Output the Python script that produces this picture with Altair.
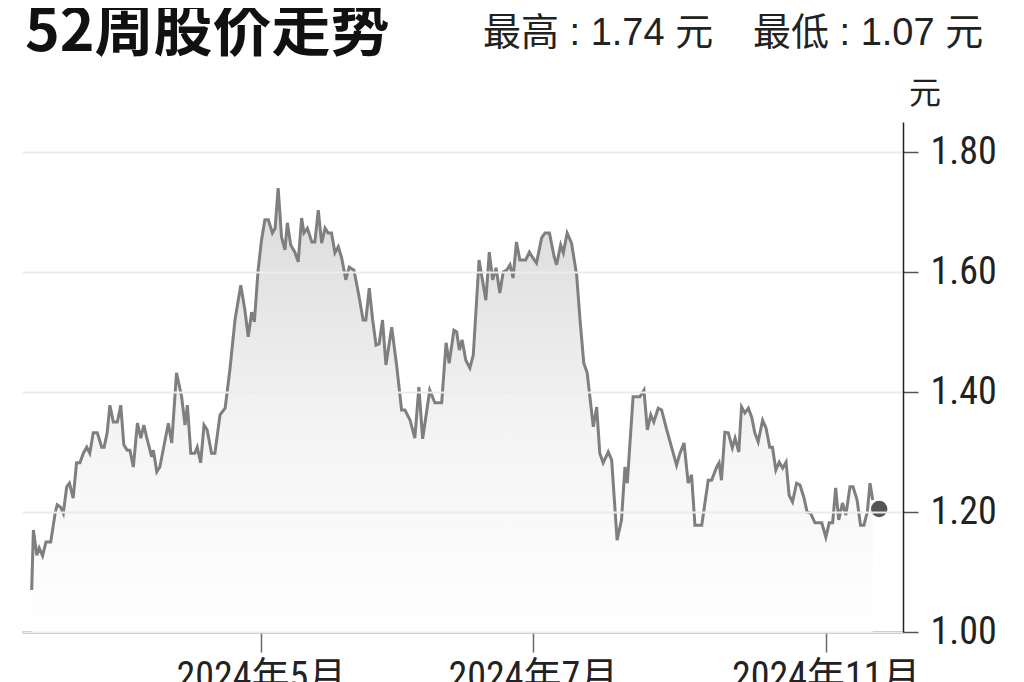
import altair as alt
import pandas as pd

# ---- data ----
days = [0.5, 1.0, 2.0, 2.7, 3.7, 4.7, 6.1, 7.4, 8.0, 9.0, 9.8, 10.8, 11.6, 12.7, 13.7, 14.7, 15.7, 16.7,
        17.6, 18.6, 19.8, 21.1, 21.8, 22.7, 23.5, 24.5, 25.7, 26.7, 27.6, 28.6, 29.4, 30.4, 31.6, 32.6,
        33.5, 34.3, 35.8, 36.3, 37.3, 38.2, 40.7, 41.7, 43.1, 44.6, 45.6, 46.3, 47.3, 48.5, 49.2, 50.2,
        51.2, 52.1, 53.4, 54.4,
        55.9, 57.4, 58.8, 60.3, 62.0, 63.2, 64.2, 65.2, 66.0, 67.1, 68.1, 69.1, 70.1, 71.3, 72.1, 73.0,
        74.0, 75.0, 75.7, 76.7, 77.9, 78.9, 79.9, 80.6, 81.6, 82.9, 83.8, 84.8, 85.8, 86.8, 87.7, 88.7,
        89.7, 90.7, 91.7, 92.9, 93.9, 95.3, 96.6, 98.0, 98.8, 99.8, 100.8, 101.8, 102.7,
        103.7, 104.7, 106.4, 107.9, 109.3, 110.3, 111.8, 113.2, 114.4, 115.5, 117.6, 119.1, 121.1, 122.4,
        123.3, 124.7, 125.5, 126.3, 127.1, 128.2, 129.4, 130.4, 132.1, 134.1, 135.1, 136.1, 137.1, 138.2,
        139.2, 140.2, 141.2, 142.1, 143.1, 144.1, 145.8, 146.9, 148.0, 149.0, 150.5,
        151.5, 152.8, 154.2, 154.9, 156.1, 156.9, 158.0, 159.3, 160.8, 161.8, 162.9, 163.9, 165.7, 166.7,
        167.6, 168.6, 170.1, 171.1, 172.7, 174.0, 175.0, 175.7, 177.4, 179.4, 180.6, 181.6, 182.6, 183.5,
        184.8, 185.8, 187.3, 190.2, 191.2,
        192.4, 193.6, 194.6, 195.6, 197.6, 199.5, 200.5, 202.0, 202.7, 203.4, 204.4, 205.4, 206.6, 207.4,
        208.5, 209.3, 210.3, 211.3, 212.3, 213.2, 214.2, 215.5, 216.5, 217.6, 218.4, 219.4, 220.4, 221.4,
        222.4, 223.3, 224.3, 225.5, 226.5, 227.6, 228.6, 229.6, 230.9, 232.9, 234.1, 235.1, 236.1, 237.0,
        237.9, 239.0, 240.0, 241.2, 242.1, 243.3, 244.3, 245.3, 246.3, 247.1, 247.9]

prices = [1.07, 1.17, 1.128, 1.14, 1.127, 1.15, 1.15, 1.198, 1.212, 1.208, 1.198, 1.242, 1.248, 1.223,
          1.282, 1.282, 1.298, 1.308, 1.298, 1.332, 1.332, 1.308, 1.308, 1.332, 1.378, 1.35, 1.35, 1.378,
          1.312, 1.303, 1.303, 1.275, 1.348, 1.323, 1.345, 1.325, 1.292, 1.303, 1.267, 1.275, 1.348, 1.315,
          1.432, 1.392, 1.345, 1.378, 1.298, 1.298, 1.308, 1.282, 1.345, 1.337, 1.298, 1.298,
          1.362, 1.373, 1.437, 1.52, 1.578, 1.537, 1.492, 1.533, 1.517, 1.603, 1.653, 1.687, 1.687, 1.665,
          1.673, 1.74, 1.658, 1.637, 1.682, 1.645, 1.633, 1.617, 1.69, 1.665, 1.673, 1.65, 1.65, 1.703,
          1.648, 1.673, 1.665, 1.665, 1.632, 1.642, 1.623, 1.587, 1.608, 1.603, 1.565, 1.52, 1.52, 1.573,
          1.52, 1.478, 1.48,
          1.52, 1.445, 1.508, 1.442, 1.37, 1.37, 1.353, 1.323, 1.408, 1.322, 1.403, 1.382, 1.382, 1.482,
          1.448, 1.503, 1.5, 1.47, 1.487, 1.453, 1.44, 1.462, 1.62, 1.553, 1.633, 1.587, 1.607, 1.565,
          1.6, 1.603, 1.612, 1.59, 1.65, 1.62, 1.62, 1.633, 1.623, 1.615, 1.657,
          1.665, 1.665, 1.625, 1.612, 1.645, 1.632, 1.665, 1.648, 1.595, 1.52, 1.448, 1.432, 1.342, 1.375,
          1.298, 1.282, 1.3, 1.287, 1.153, 1.187, 1.275, 1.248, 1.392, 1.392, 1.403, 1.337, 1.362, 1.35,
          1.373, 1.37, 1.337, 1.278, 1.298,
          1.315, 1.248, 1.262, 1.178, 1.178, 1.253, 1.253, 1.275, 1.282, 1.253, 1.333, 1.332, 1.307, 1.323,
          1.3, 1.375, 1.365, 1.373, 1.358, 1.332, 1.317, 1.353, 1.34, 1.308, 1.308, 1.27, 1.283, 1.273,
          1.283, 1.228, 1.217, 1.248, 1.245, 1.225, 1.2, 1.198, 1.182, 1.182, 1.158, 1.182, 1.182, 1.24,
          1.187, 1.215, 1.195, 1.242, 1.242, 1.22, 1.178, 1.178, 1.2, 1.248, 1.22]

last_day = [249.8]
last_price = [1.205]

y_ticks = [1.0, 1.2, 1.4, 1.6, 1.8]
x_tick_days = [67.9, 147.9, 234.1]
x_tick_labels = ["2024年5月", "2024年7月", "2024年11月"]

title_text = "52周股价走势"
high_text = "最高 : 1.74 元"
low_text = "最低 : 1.07 元"
unit_text = "元"

# ---- build chart ----
df = pd.DataFrame({"day": days, "price": prices})
df_last = pd.DataFrame({"day": last_day, "price": last_price})

label_expr = " : ".join(
    [f"datum.value < {(x_tick_days[i] + x_tick_days[i + 1]) / 2} ? '{x_tick_labels[i]}'" for i in range(len(x_tick_days) - 1)]
) + f" : '{x_tick_labels[-1]}'"

NUM_FONT = "Roboto Condensed, Arial Narrow, Liberation Sans Narrow, DejaVu Sans Condensed, Liberation Sans, Noto Sans CJK SC"

x_enc = alt.X(
    "day:Q",
    scale=alt.Scale(domain=[-2.35, 256.8], nice=False, zero=False),
    axis=alt.Axis(
        values=x_tick_days, labelExpr=label_expr, title=None, grid=False,
        domainColor="#6b6b6b", domainWidth=2, tickColor="#6b6b6b", tickWidth=1.5, tickSize=20,
        labelFontSize=38, labelFont=NUM_FONT, labelColor="#222222", labelPadding=6,
        labelBaseline="top", labelFlush=False, labelOverlap=False, labelLimit=400,
    ),
)
y_enc = alt.Y(
    "price:Q",
    scale=alt.Scale(domain=[1.0, 1.85], nice=False, zero=False),
    axis=alt.Axis(
        orient="right", values=y_ticks, format=".2f", title=None,
        grid=True, gridColor="#ececec", gridWidth=2,
        domainColor="#222222", domainWidth=1.5, tickColor="#555555", tickWidth=1.5, tickSize=15,
        labelFontSize=38, labelFont=NUM_FONT, labelColor="#222222", labelPadding=12,
        labelFlush=False, labelLimit=400, zindex=1,
    ),
)

area = alt.Chart(df).mark_area(
    color=alt.Gradient(
        gradient="linear",
        stops=[
            alt.GradientStop(color="#dadada", offset=0),
            alt.GradientStop(color="#f4f4f4", offset=0.55),
            alt.GradientStop(color="#ffffff", offset=1),
        ],
        x1=1, x2=1, y1=0, y2=1,
    ),
).encode(x=x_enc, y=y_enc, y2=alt.datum(1.0))

line = alt.Chart(df).mark_line(color="#7f7f7f", strokeWidth=3).encode(x=x_enc, y=y_enc)

dot = alt.Chart(df_last).mark_circle(color="#555555", opacity=1, size=270).encode(x=x_enc, y=y_enc)

one = pd.DataFrame({"k": [0]})
title_mark = alt.Chart(one).mark_text(
    text=title_text, font="Noto Sans CJK SC", fontWeight="bold", fontSize=59,
    align="left", baseline="alphabetic", color="#111111",
).encode(x=alt.value(3), y=alt.value(-71))
high_mark = alt.Chart(one).mark_text(
    text=high_text, font="Liberation Sans, Noto Sans CJK SC", fontSize=38,
    align="left", baseline="alphabetic", color="#222222",
).encode(x=alt.value(461), y=alt.value(-77))
low_mark = alt.Chart(one).mark_text(
    text=low_text, font="Liberation Sans, Noto Sans CJK SC", fontSize=38,
    align="left", baseline="alphabetic", color="#222222",
).encode(x=alt.value(731), y=alt.value(-77))
unit_mark = alt.Chart(one).mark_text(
    text=unit_text, font="Noto Sans CJK SC", fontSize=32,
    align="center", baseline="middle", color="#222222",
).encode(x=alt.value(903), y=alt.value(-28))

chart = alt.layer(area, line, dot, title_mark, high_mark, low_mark, unit_mark).properties(
    width=881, height=510,
    autosize=alt.AutoSizeParams(type="none"),
    padding={"left": 14, "top": 114, "right": 113, "bottom": 50},
    background="white",
).configure_view(stroke=None)

chart.save("out.html", embed_options={"renderer": "svg", "actions": False})
